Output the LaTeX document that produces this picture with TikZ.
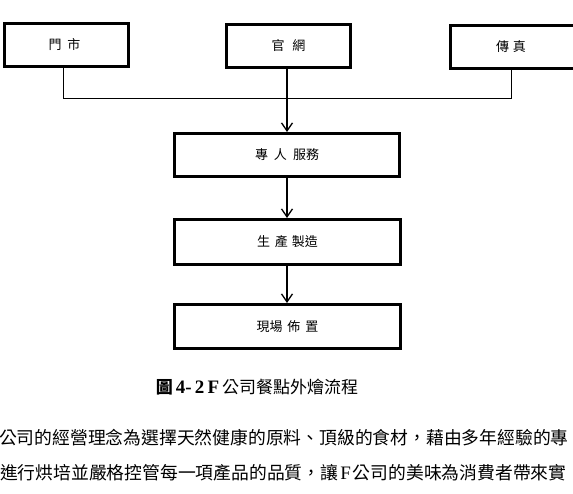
\documentclass[tikz,border=0pt]{standalone}
\usepackage{fontspec}
\setmainfont{Liberation Serif}
\newfontfamily\cjk{Noto Sans CJK TC}
\usetikzlibrary{arrows.meta}
\tikzset{
  box/.style={draw, line width=3pt, rectangle, inner sep=0pt, font=\cjk\fontsize{13}{13}\selectfont},
  conn/.style={draw, line width=1pt},
  arr/.style={draw, line width=1.3pt, -{Straight Barb[length=8pt,width=11pt,line width=1.3pt]}},
  body/.style={anchor=west, inner sep=0pt, font=\cjk\fontsize{17.8}{17.8}\selectfont}
}
\begin{document}
\begin{tikzpicture}[x=1pt,y=-1pt]
\clip (0,0) rectangle (573,493);
\fill[white] (0,0) rectangle (573,493);
\node[box, minimum width=124pt, minimum height=43pt] (left) at (66.5,45) {\hspace{-4pt}門\hspace{6pt}市};
\node[box, minimum width=124pt, minimum height=43pt] (mid) at (288.5,46) {官\hspace{8pt}網};
\node[box, minimum width=125pt, minimum height=43pt] (right) at (513,47) {\hspace{-4pt}傳\hspace{4pt}真};
\node[box, minimum width=225pt, minimum height=43pt] (s1) at (287,155) {專\hspace{6pt}人\hspace{6pt}服務};
\node[box, minimum width=226pt, minimum height=45pt] (s2) at (287.5,242) {生\hspace{5pt}產\hspace{4pt}製造};
\node[box, minimum width=226pt, minimum height=44pt] (s3) at (287.5,326.5) {現場\hspace{5pt}佈\hspace{5pt}置};
\coordinate (lj) at (63,98);
\coordinate (rj) at (511,98);
\draw[conn] (left.south -| lj) -- (lj) -- (rj) -- (right.south -| rj);
\draw[arr] (mid.south -| s1.north) -- (s1.north);
\draw[arr] (s1.south) -- (s2.north -| s1.south);
\draw[arr] (s2.south -| s1.south) -- (s3.north -| s1.south);
\node[inner sep=0pt, font=\fontsize{17}{17}\selectfont] (cap) at (257,387) {{\cjk\bfseries 圖}\hspace{3pt}{\fontsize{19}{19}\selectfont\bfseries 4-\,2\,F}\hspace{3pt}{\cjk 公司餐點外燴流程}};
\node[body] (l1) at (-1,438) {公司的經營理念為選擇天然健康的原料、頂級的食材，藉由多年經驗的專};
\node[body] (l2) at (0,473) {進行烘培並嚴格控管每一項產品的品質，讓\hspace{2pt}{\rmfamily\fontsize{19}{19}\selectfont F}\hspace{2pt}公司的美味為消費者帶來實};
\end{tikzpicture}
\end{document}
